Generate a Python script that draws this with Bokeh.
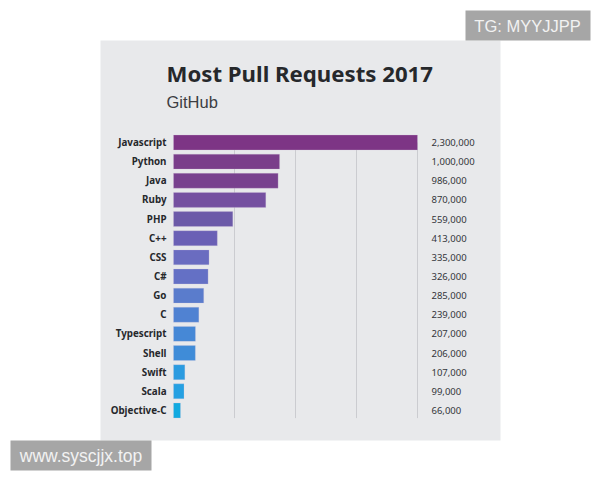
from bokeh.core.properties import value
from bokeh.embed import file_html
from bokeh.resources import INLINE
from bokeh.plotting import figure
from bokeh.models import (BoxAnnotation, ColumnDataSource, FixedTicker, Label, LabelSet,
                          LinearAxis, Range1d)

languages = ["Javascript", "Python", "Java", "Ruby", "PHP", "C++", "CSS", "C#", "Go", "C",
             "Typescript", "Shell", "Swift", "Scala", "Objective-C"]
pull_requests = [2300000, 1000000, 986000, 870000, 559000, 413000, 335000, 326000, 285000,
                 239000, 207000, 206000, 107000, 99000, 66000]
value_labels = ["2,300,000", "1,000,000", "986,000", "870,000", "559,000", "413,000", "335,000",
                "326,000", "285,000", "239,000", "207,000", "206,000", "107,000", "99,000", "66,000"]
bar_colors = ["#7d3585", "#7a3e8a", "#78418e", "#7550a0", "#6c5aa8", "#6a60b5", "#6a6cc0", "#6470c5",
              "#5a7ccc", "#5082d2", "#4688d6", "#3f8cd8", "#2b9be0", "#25a0e2", "#12aae0"]
grid_values = [575000, 1150000, 1725000, 2300000]
title_text = "Most Pull Requests 2017"
subtitle_text = "GitHub"

W, H = 600, 480
row_index = list(range(len(languages)))

# scales: the frame fills the page; value 0 sits at x=173, row 0 at y=142
px_per_value = 244 / max(pull_requests)
row_px = 19.14
x_range = Range1d(-173 / px_per_value, (W - 173) / px_per_value)
y_range = Range1d((H - 142) / row_px, -142 / row_px)

p = figure(width=W, height=H, output_backend="svg", toolbar_location=None,
           x_range=x_range, y_range=y_range, x_axis_type=None, y_axis_type=None,
           min_border=0)
p.background_fill_color = "white"
p.border_fill_color = "white"
p.outline_line_color = None
p.grid.visible = False


def box(left, right, top, bottom, color, level):
    return BoxAnnotation(left=left, right=right, top=top, bottom=bottom,
                         left_units="canvas", right_units="canvas",
                         top_units="canvas", bottom_units="canvas",
                         fill_color=color, fill_alpha=1, line_color=None, level=level)


p.add_layout(box(100, 500, 40, 440, "#e8e9eb", "image"))

p.segment(x0=grid_values, x1=grid_values, y0=[0] * 4, y1=[14.4] * 4,
          line_color="#cbccd0", line_width=1, level="underlay")

ax = LinearAxis(fixed_location=0, ticker=FixedTicker(ticks=row_index),
                major_label_overrides=dict(zip(row_index, languages)))
ax.axis_line_color = None
ax.major_tick_line_color = None
ax.minor_tick_line_color = None
ax.major_tick_out = 0
ax.major_tick_in = 0
ax.major_label_standoff = 7
ax.major_label_text_font = "Noto Sans"
ax.major_label_text_font_style = "bold"
ax.major_label_text_font_size = "9.8px"
ax.major_label_text_color = "#26282b"
p.add_layout(ax, "left")

src = ColumnDataSource(dict(row=row_index, value=pull_requests, color=bar_colors,
                            label=value_labels, anchor=[max(pull_requests)] * len(languages)))
p.hbar(y="row", right="value", left=0, height=0.78, fill_color="color",
       line_color="#d9c8e0", line_alpha=0.5, line_width=0.5, source=src)

p.add_layout(LabelSet(x="anchor", y="row", text="label", source=src, x_offset=14,
                      text_align="left", text_baseline="middle",
                      text_font=value("Noto Sans"), text_font_size="9.5px", text_color="#33353a"))

p.add_layout(Label(x=166, y=73, x_units="canvas", y_units="canvas", text=title_text,
                   text_font="Noto Sans", text_font_style="bold", text_font_size="22.2px",
                   text_color="#26282b", text_align="left", text_baseline="middle"))
p.add_layout(Label(x=166, y=101.5, x_units="canvas", y_units="canvas", text=subtitle_text,
                   text_font="Liberation Sans", text_font_size="16.5px",
                   text_color="#3c3e42", text_align="left", text_baseline="middle"))

p.add_layout(box(465, 590, 10, 40, "#a6a6a6", "overlay"))
p.add_layout(box(10, 151, 440, 470, "#a6a6a6", "overlay"))
p.add_layout(Label(x=527, y=25, x_units="canvas", y_units="canvas", text="TG: MYYJJPP",
                   text_font="Liberation Sans", text_font_size="16.5px", text_color="#f2f2f2",
                   text_align="center", text_baseline="middle", level="overlay"))
p.add_layout(Label(x=80.5, y=455, x_units="canvas", y_units="canvas", text="www.syscjjx.top",
                   text_font="Liberation Sans", text_font_size="17.5px", text_color="#f2f2f2",
                   text_align="center", text_baseline="middle", level="overlay"))

open("out.html", "w").write(file_html(p, INLINE))
